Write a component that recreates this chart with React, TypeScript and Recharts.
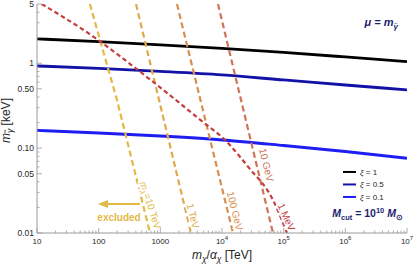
import React from 'react';
import { LineChart, Line, XAxis, YAxis, ReferenceDot } from 'recharts';

// ---------------- data ----------------
const xGrid = [10, 100, 1000, 1e4, 1e5, 1e6, 1e7];
const xi1 = [1.94, 1.8, 1.65, 1.5, 1.345, 1.19, 1.047];
const xi05 = [0.931, 0.871, 0.803, 0.73, 0.637, 0.556, 0.486];
const xi01 = [0.162, 0.151, 0.139, 0.125, 0.1076, 0.0914, 0.076];
const xiNames = ['ξ = 1', 'ξ = 0.5', 'ξ = 0.1'];
const xiColors = ['#000000', '#1212a6', '#1e1ef2'];

const massNames = ['m_χ=10 TeV', '1 TeV', '100 GeV', '10 GeV', '1 MeV'];
const massColors = ['#e2b946', '#dfaa4b', '#d98e50', '#cf7358', '#c43e3e'];
const m10TeVx = [72, 198, 680];
const m10TeVy = [5, 0.37, 0.01];
const m1TeVx = [403, 3140];
const m1TeVy = [5, 0.01];
const m100GeVx = [1860, 15070];
const m100GeVy = [5, 0.01];
const m10GeVx = [8610, 67100];
const m10GeVy = [5, 0.01];
const m1MeVx = [11.9, 81.8, 468, 4397, 11916, 26390, 67100, 113200];
const m1MeVy = [5, 2.065, 0.798, 0.2168, 0.1193, 0.0605, 0.0245, 0.01];
const massLabelX = [706, 3385, 16240, 52650, 111100];
const massLabelY = [0.0214, 0.0159, 0.0182, 0.0634, 0.0154];
const massLabelAngle = [72, 76, 76, 76, 66];

const xMajor = [10, 100, 1000, 1e4, 1e5, 1e6, 1e7];
const xMajorLabels = ['10', '100', '1000', '10^4', '10^5', '10^6', '10^7'];
const minorMult = [2, 3, 4, 5, 6, 7, 8, 9];
const yMajor = [0.01, 0.05, 0.1, 0.5, 1, 5];
const yMajorLabels = ['0.01', '0.05', '0.10', '0.50', '1', '5'];
const yMinor = [0.02, 0.03, 0.04, 0.06, 0.07, 0.08, 0.09, 0.2, 0.3, 0.4, 0.6, 0.7, 0.8, 0.9, 2, 3, 4];

// annotation anchors (data coords)
const muAnchor = { x: 7.15e6, y: 2.76 };
const mcutAnchor = { x: 8.6e6, y: 0.0154 };
const legendAnchor = { x: 9.16e5, y: 0.0524 };
const excludedAnchor = { x: 214, y: 0.01385 };
const arrowFrom = { x: 468, y: 0.022 };

// ---------------- helpers ----------------
const pts = (xs: number[], ys: number[]) => xs.map((x, i) => ({ x, y: ys[i] }));
const xTicks: number[] = [...xMajor];
xMajor.slice(0, -1).forEach((d) => minorMult.forEach((m) => xTicks.push(d * m)));
const yTicks = [...yMajor, ...yMinor];

const AXIS = '#9a9a9a';
const TXT = '#262626';
const NAVY = '#1e1e6e';
const FONT = '"Liberation Sans", Arial, sans-serif';

function XTickBottom(props: any) {
  const { x, y, payload } = props;
  const idx = xMajor.indexOf(payload.value);
  const major = idx >= 0;
  const [base, exp] = major ? xMajorLabels[idx].split('^') : ['', ''];
  return (
    <g>
      <line x1={x} x2={x} y1={y} y2={y - (major ? 5 : 2.5)} stroke={AXIS} strokeWidth={0.8} />
      {major && (
        <text x={x} y={y + 10.5} textAnchor="middle" fontSize={8} fill={TXT} fontFamily={FONT}>
          {base}
          {exp && (
            <tspan fontSize={6} dy={-3.5}>
              {exp}
            </tspan>
          )}
        </text>
      )}
    </g>
  );
}
function XTickTop(props: any) {
  const { x, y, payload } = props;
  const major = xMajor.indexOf(payload.value) >= 0;
  return <line x1={x} x2={x} y1={y} y2={y + (major ? 5 : 2.5)} stroke={AXIS} strokeWidth={0.8} />;
}
function YTickLeft(props: any) {
  const { x, y, payload } = props;
  const idx = yMajor.indexOf(payload.value);
  const major = idx >= 0;
  return (
    <g>
      <line x1={x} x2={x + (major ? 5 : 2.5)} y1={y} y2={y} stroke={AXIS} strokeWidth={0.8} />
      {major && (
        <text x={x - 3} y={y + 3} textAnchor="end" fontSize={8.5} fill={TXT} fontFamily={FONT}>
          {yMajorLabels[idx]}
        </text>
      )}
    </g>
  );
}
function YTickRight(props: any) {
  const { x, y, payload } = props;
  const major = yMajor.indexOf(payload.value) >= 0;
  return <line x1={x} x2={x - (major ? 5 : 2.5)} y1={y} y2={y} stroke={AXIS} strokeWidth={0.8} />;
}

const XTitle = (props: any) => {
  const { x, y, width } = props.viewBox;
  return (
    <text x={x + width / 2} y={y + 26} textAnchor="middle" fontSize={12} fill={TXT} fontFamily={FONT}>
      <tspan fontStyle="italic">m</tspan>
      <tspan fontStyle="italic" fontSize={8.5} dy={3}>χ</tspan>
      <tspan dy={-3}>/</tspan>
      <tspan fontStyle="italic">α</tspan>
      <tspan fontStyle="italic" fontSize={8.5} dy={3}>χ</tspan>
      <tspan dy={-3}> [TeV]</tspan>
    </text>
  );
};
const YTitle = (props: any) => {
  const { x, y, height } = props.viewBox;
  const cx = x + 10;
  const cy = y + height / 2 + 2;
  return (
    <text x={cx} y={cy} transform={`rotate(-90 ${cx} ${cy})`} textAnchor="middle" fontSize={12} fill={TXT} fontFamily={FONT}>
      <tspan fontStyle="italic">m</tspan>
      <tspan fontStyle="italic" fontSize={8.5} dy={3}>γ̃</tspan>
      <tspan dy={-3}> [keV]</tspan>
    </text>
  );
};

const massLabel = (i: number) => (p: any) => {
  const name = massNames[i];
  const { cx, cy } = p;
  const common = {
    fontSize: 10,
    fill: massColors[i],
    fontFamily: FONT,
    stroke: '#fff',
    strokeWidth: 3,
    paintOrder: 'stroke' as any,
    textAnchor: 'middle' as any,
    dominantBaseline: 'central' as any,
  };
  if (name.startsWith('m_χ')) {
    return (
      <text x={cx} y={cy} transform={`rotate(${massLabelAngle[i]} ${cx} ${cy})`} {...common}>
        <tspan fontStyle="italic">m</tspan>
        <tspan fontStyle="italic" fontSize={7.5} dy={2.5}>χ</tspan>
        <tspan dy={-2.5}>{name.slice(3)}</tspan>
      </text>
    );
  }
  return (
    <text x={cx} y={cy} transform={`rotate(${massLabelAngle[i]} ${cx} ${cy})`} {...common}>
      {name}
    </text>
  );
};

const LegendShape = (p: any) => {
  const { cx, cy } = p;
  return (
    <g>
      {xiNames.map((n, i) => {
        const yy = cy + i * 12.5;
        const rest = n.slice(1);
        return (
          <g key={n}>
            <line x1={cx} x2={cx + 13} y1={yy} y2={yy} stroke={xiColors[i]} strokeWidth={2} />
            <text x={cx + 17} y={yy + 3} fontSize={8} fill={TXT} fontFamily={FONT}>
              <tspan fontStyle="italic">ξ</tspan>
              {rest}
            </text>
          </g>
        );
      })}
    </g>
  );
};

const MuShape = (p: any) => (
  <text x={p.cx} y={p.cy} textAnchor="end" fontSize={11} fontWeight="bold" fontStyle="italic" fill={NAVY} fontFamily={FONT}>
    μ = m
    <tspan fontSize={8} dy={3}>γ̃</tspan>
  </text>
);
const McutShape = (p: any) => (
  <text x={p.cx} y={p.cy} textAnchor="end" fontSize={10.5} fontWeight="bold" fill={NAVY} fontFamily={FONT}>
    <tspan fontStyle="italic">M</tspan>
    <tspan fontSize={7.5} dy={2.5}>cut</tspan>
    <tspan dy={-2.5}> = 10</tspan>
    <tspan fontSize={7.5} dy={-4}>10</tspan>
    <tspan dy={4} fontStyle="italic"> M</tspan>
    <tspan fontSize={7.5} dy={2.5}>⊙</tspan>
  </text>
);
const ExcludedShape = (p: any) => (
  <text x={p.cx} y={p.cy} textAnchor="middle" fontSize={10} fontWeight="bold" fill={massColors[0]} fontFamily={FONT}>
    excluded
  </text>
);
const ArrowShape = (p: any) => {
  const { cx, cy } = p;
  return (
    <g>
      <line x1={cx} x2={cx - 34} y1={cy} y2={cy} stroke={massColors[0]} strokeWidth={2} />
      <polygon points={`${cx - 42},${cy} ${cx - 32},${cy - 4} ${cx - 32},${cy + 4}`} fill={massColors[0]} />
    </g>
  );
};

const solid = [
  { d: pts(xGrid, xi1), c: xiColors[0], n: xiNames[0] },
  { d: pts(xGrid, xi05), c: xiColors[1], n: xiNames[1] },
  { d: pts(xGrid, xi01), c: xiColors[2], n: xiNames[2] },
];
const dashed = [
  { d: pts(m10TeVx, m10TeVy), c: massColors[0], dash: '6 3.5', t: 'linear' },
  { d: pts(m1TeVx, m1TeVy), c: massColors[1], dash: '6 3.5', t: 'linear' },
  { d: pts(m100GeVx, m100GeVy), c: massColors[2], dash: '6 3.5', t: 'linear' },
  { d: pts(m10GeVx, m10GeVy), c: massColors[3], dash: '6 3.5', t: 'linear' },
  { d: pts(m1MeVx, m1MeVy), c: massColors[4], dash: '4.5 3', t: 'monotone' },
];

export default function App() {
  return (
    <div style={{ position: 'absolute', left: 0, top: 0 }}>
      <LineChart width={415} height={267} margin={{ top: 4, right: 8, bottom: 0, left: 0 }}>
        <XAxis
          xAxisId="b"
          type="number"
          dataKey="x"
          scale="log"
          domain={[10, 1e7]}
          allowDataOverflow
          ticks={xTicks}
          interval={0}
          tick={XTickBottom}
          tickLine={false}
          tickSize={0}
          tickMargin={0}
          height={34}
          stroke={AXIS}
          label={XTitle}
        />
        <XAxis
          xAxisId="t"
          orientation="top"
          type="number"
          dataKey="x"
          scale="log"
          domain={[10, 1e7]}
          allowDataOverflow
          ticks={xTicks}
          interval={0}
          tick={XTickTop}
          tickLine={false}
          tickSize={0}
          tickMargin={0}
          height={0}
          stroke={AXIS}
        />
        <YAxis
          yAxisId="l"
          type="number"
          scale="log"
          domain={[0.01, 5]}
          allowDataOverflow
          ticks={yTicks}
          interval={0}
          tick={YTickLeft}
          tickLine={false}
          tickSize={0}
          tickMargin={0}
          width={37}
          stroke={AXIS}
          label={YTitle}
        />
        <YAxis
          yAxisId="r"
          orientation="right"
          type="number"
          scale="log"
          domain={[0.01, 5]}
          allowDataOverflow
          ticks={yTicks}
          interval={0}
          tick={YTickRight}
          tickLine={false}
          tickSize={0}
          tickMargin={0}
          width={0}
          stroke={AXIS}
        />
        {solid.map((s) => (
          <Line
            key={s.n}
            xAxisId="b"
            yAxisId="l"
            data={s.d}
            dataKey="y"
            type="monotone"
            stroke={s.c}
            strokeWidth={2.9}
            dot={false}
            isAnimationActive={false}
          />
        ))}
        {dashed.map((s, i) => (
          <Line
            key={massNames[i]}
            xAxisId="b"
            yAxisId="l"
            data={s.d}
            dataKey="y"
            type={s.t as any}
            stroke={s.c}
            strokeWidth={2.2}
            strokeDasharray={s.dash}
            dot={false}
            isAnimationActive={false}
          />
        ))}
        {massNames.map((n, i) => (
          <ReferenceDot key={'lab' + n} xAxisId="b" yAxisId="l" x={massLabelX[i]} y={massLabelY[i]} r={1} shape={massLabel(i)} />
        ))}
        <ReferenceDot xAxisId="b" yAxisId="l" x={muAnchor.x} y={muAnchor.y} r={1} shape={MuShape} />
        <ReferenceDot xAxisId="b" yAxisId="l" x={mcutAnchor.x} y={mcutAnchor.y} r={1} shape={McutShape} />
        <ReferenceDot xAxisId="b" yAxisId="l" x={legendAnchor.x} y={legendAnchor.y} r={1} shape={LegendShape} />
        <ReferenceDot xAxisId="b" yAxisId="l" x={excludedAnchor.x} y={excludedAnchor.y} r={1} shape={ExcludedShape} />
        <ReferenceDot xAxisId="b" yAxisId="l" x={arrowFrom.x} y={arrowFrom.y} r={1} shape={ArrowShape} />
      </LineChart>
    </div>
  );
}
